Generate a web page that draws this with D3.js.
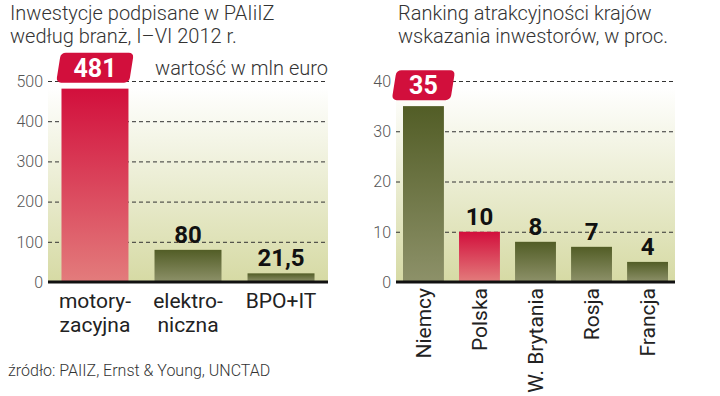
<!DOCTYPE html>
<html>
<head>
<meta charset="utf-8">
<script src="https://cdn.jsdelivr.net/npm/d3@7"></script>
<style>
  body { margin: 0; background: #fff; }
  text { font-family: Roboto, 'Noto Sans', sans-serif; }
</style>
</head>
<body>
<div id="chart"></div>
<script>
// inwestycje wg branz (mln euro)
var sectorNames = ['motoryzacyjna', 'elektroniczna', 'BPO+IT'];
var sectorLines = [['motory-', 'zacyjna'], ['elektro-', 'niczna'], ['BPO+IT']];
var sectorValues = [481, 80, 21.5];
var sectorTicks = [0, 100, 200, 300, 400, 500];
var sectorRed = ['motoryzacyjna'];

// ranking krajow (proc.)
var countryNames = ['Niemcy', 'Polska', 'W. Brytania', 'Rosja', 'Francja'];
var countryValues = [35, 10, 8, 7, 4];
var countryTicks = [0, 10, 20, 30, 40];
var countryRed = ['Polska'];

var svg = d3.select('#chart')
  .append('svg')
  .attr('width', 720)
  .attr('height', 396);

var defs = svg.append('defs');

function gradient(id, top, bottom) {
  var g = defs.append('linearGradient')
    .attr('id', id)
    .attr('x1', 0).attr('y1', 0)
    .attr('x2', 0).attr('y2', 1);
  g.append('stop').attr('offset', '0%').attr('stop-color', top);
  g.append('stop').attr('offset', '100%').attr('stop-color', bottom);
}
gradient('bg', '#ffffff', '#d6daa4');
gradient('red', '#d20f3c', '#e37c7c');
gradient('green', '#525d26', '#8d9169');

function fmt(v) {
  return String(v).replace('.', ',');
}

function BarChart(option) {
  this.left = option.left;
  this.right = option.right;
  this.top = option.top;
  this.bottom = option.bottom;
  this.names = option.names;
  this.values = option.values;
  this.ticks = option.ticks;
  this.red = option.red;
  this.lines = option.lines;
  this.rotate = option.rotate || false;
  this.paddingInner = option.paddingInner;
  this.paddingOuter = option.paddingOuter;

  this.data = this.names.map(function (n, i) {
    return { name: n, value: option.values[i] };
  });
  this.x = d3.scaleBand()
    .domain(this.names)
    .range([this.left, this.right])
    .paddingInner(this.paddingInner)
    .paddingOuter(this.paddingOuter);
  this.y = d3.scaleLinear()
    .domain([0, d3.max(this.ticks)])
    .range([this.bottom, this.top]);
  this.g = svg.append('g');
}

BarChart.prototype.render = function () {
  var self = this;
  var x = this.x, y = this.y;
  var maxV = d3.max(this.values);

  // tlo
  this.g.append('rect')
    .attr('x', this.left)
    .attr('y', this.top + 6)
    .attr('width', this.right - this.left)
    .attr('height', this.bottom - this.top - 6)
    .attr('fill', 'url(#bg)');

  // siatka
  this.g.selectAll('.grid')
    .data(this.ticks.filter(function (t) { return t > 0; }))
    .enter()
    .append('line')
    .attr('x1', this.left)
    .attr('x2', this.right)
    .attr('y1', function (d) { return y(d) + 0.5; })
    .attr('y2', function (d) { return y(d) + 0.5; })
    .attr('stroke', '#333')
    .attr('stroke-width', 1)
    .attr('stroke-dasharray', '4,3');

  this.g.selectAll('.tick')
    .data(this.ticks)
    .enter()
    .append('text')
    .attr('x', this.left - 5)
    .attr('y', function (d) { return y(d); })
    .attr('dy', '0.36em')
    .attr('text-anchor', 'end')
    .attr('font-size', 16)
    .attr('font-weight', 300)
    .attr('fill', '#555')
    .text(function (d) { return d; });

  // slupki
  this.g.selectAll('.bar')
    .data(this.data)
    .enter()
    .append('rect')
    .attr('x', function (d) { return x(d.name); })
    .attr('y', function (d) { return y(d.value); })
    .attr('width', x.bandwidth())
    .attr('height', function (d) { return y(0) - y(d.value); })
    .attr('fill', function (d) {
      return self.red.indexOf(d.name) >= 0 ? 'url(#red)' : 'url(#green)';
    });

  this.g.append('line')
    .attr('x1', this.left)
    .attr('x2', this.right)
    .attr('y1', this.bottom)
    .attr('y2', this.bottom)
    .attr('stroke', '#111')
    .attr('stroke-width', 3);

  // wartosci
  this.data.forEach(function (d) {
    var cx = x(d.name) + x.bandwidth() / 2;
    if (d.value === maxV) {
      var box = self.g.append('g')
        .attr('transform', 'translate(' + cx + ',' + (y(d.value) - 21) + ')');
      var rect = box.append('rect');
      var t = box.append('text')
        .attr('text-anchor', 'middle')
        .attr('dy', '0.36em')
        .attr('font-family', "'DejaVu Sans Condensed', 'DejaVu Sans', sans-serif")
        .attr('font-weight', 'bold')
        .attr('font-size', 25)
        .attr('fill', '#fff')
        .text(fmt(d.value));
      var w = t.node().getComputedTextLength() + 30;
      rect.attr('x', -w / 2)
        .attr('y', -15)
        .attr('width', w)
        .attr('height', 30)
        .attr('rx', 5)
        .attr('fill', '#d20f3c')
        .attr('transform', 'skewX(-9)');
    } else {
      self.g.append('text')
        .attr('x', cx)
        .attr('y', y(d.value) - 7)
        .attr('text-anchor', 'middle')
        .attr('font-family', "'DejaVu Sans Condensed', 'DejaVu Sans', sans-serif")
        .attr('font-weight', 'bold')
        .attr('font-size', 24)
        .attr('fill', '#111')
        .text(fmt(d.value));
    }
  });

  // etykiety kategorii
  if (this.rotate) {
    this.g.selectAll('.cat')
      .data(this.names)
      .enter()
      .append('text')
      .attr('transform', function (d) {
        return 'translate(' + (x(d) + x.bandwidth() / 2) + ',' + (self.bottom + 6) + ') rotate(-90)';
      })
      .attr('dy', '0.36em')
      .attr('text-anchor', 'end')
      .attr('font-size', 21)
      .attr('fill', '#222')
      .text(function (d) { return d; });
  } else {
    this.names.forEach(function (n, i) {
      var t = self.g.append('text')
        .attr('text-anchor', 'middle')
        .attr('font-size', 21)
        .attr('fill', '#222');
      self.lines[i].forEach(function (line, j) {
        t.append('tspan')
          .attr('x', x(n) + x.bandwidth() / 2)
          .attr('y', self.bottom + 26 + j * 24)
          .text(line);
      });
    });
  }
};

new BarChart({
  left: 48, right: 328, top: 81, bottom: 282,
  names: sectorNames, values: sectorValues, ticks: sectorTicks,
  red: sectorRed, lines: sectorLines,
  paddingInner: 0.28, paddingOuter: 0.145
}).render();

new BarChart({
  left: 396, right: 675, top: 81, bottom: 282,
  names: countryNames, values: countryValues, ticks: countryTicks,
  red: countryRed, rotate: true,
  paddingInner: 0.27, paddingOuter: 0.125
}).render();

// tytuly
function title(x, y, lines, size) {
  var t = svg.append('text')
    .attr('font-size', size)
    .attr('font-weight', 300)
    .attr('fill', '#333');
  lines.forEach(function (line, i) {
    t.append('tspan').attr('x', x).attr('y', y + i * 23).text(line);
  });
}
title(10, 20, ['Inwestycje podpisane w PAIiIZ', 'według branż, I–VI 2012 r.'], 20);
title(398, 20, ['Ranking atrakcyjności krajów', 'wskazania inwestorów, w proc.'], 20);

svg.append('text')
  .attr('x', 328)
  .attr('y', 75)
  .attr('text-anchor', 'end')
  .attr('font-size', 20)
  .attr('font-weight', 300)
  .attr('fill', '#333')
  .text('wartość w mln euro');

svg.append('text')
  .attr('x', 8)
  .attr('y', 376)
  .attr('font-size', 16)
  .attr('font-weight', 300)
  .attr('fill', '#333')
  .text('źródło: PAIIZ, Ernst & Young, UNCTAD');
</script>
</body>
</html>
